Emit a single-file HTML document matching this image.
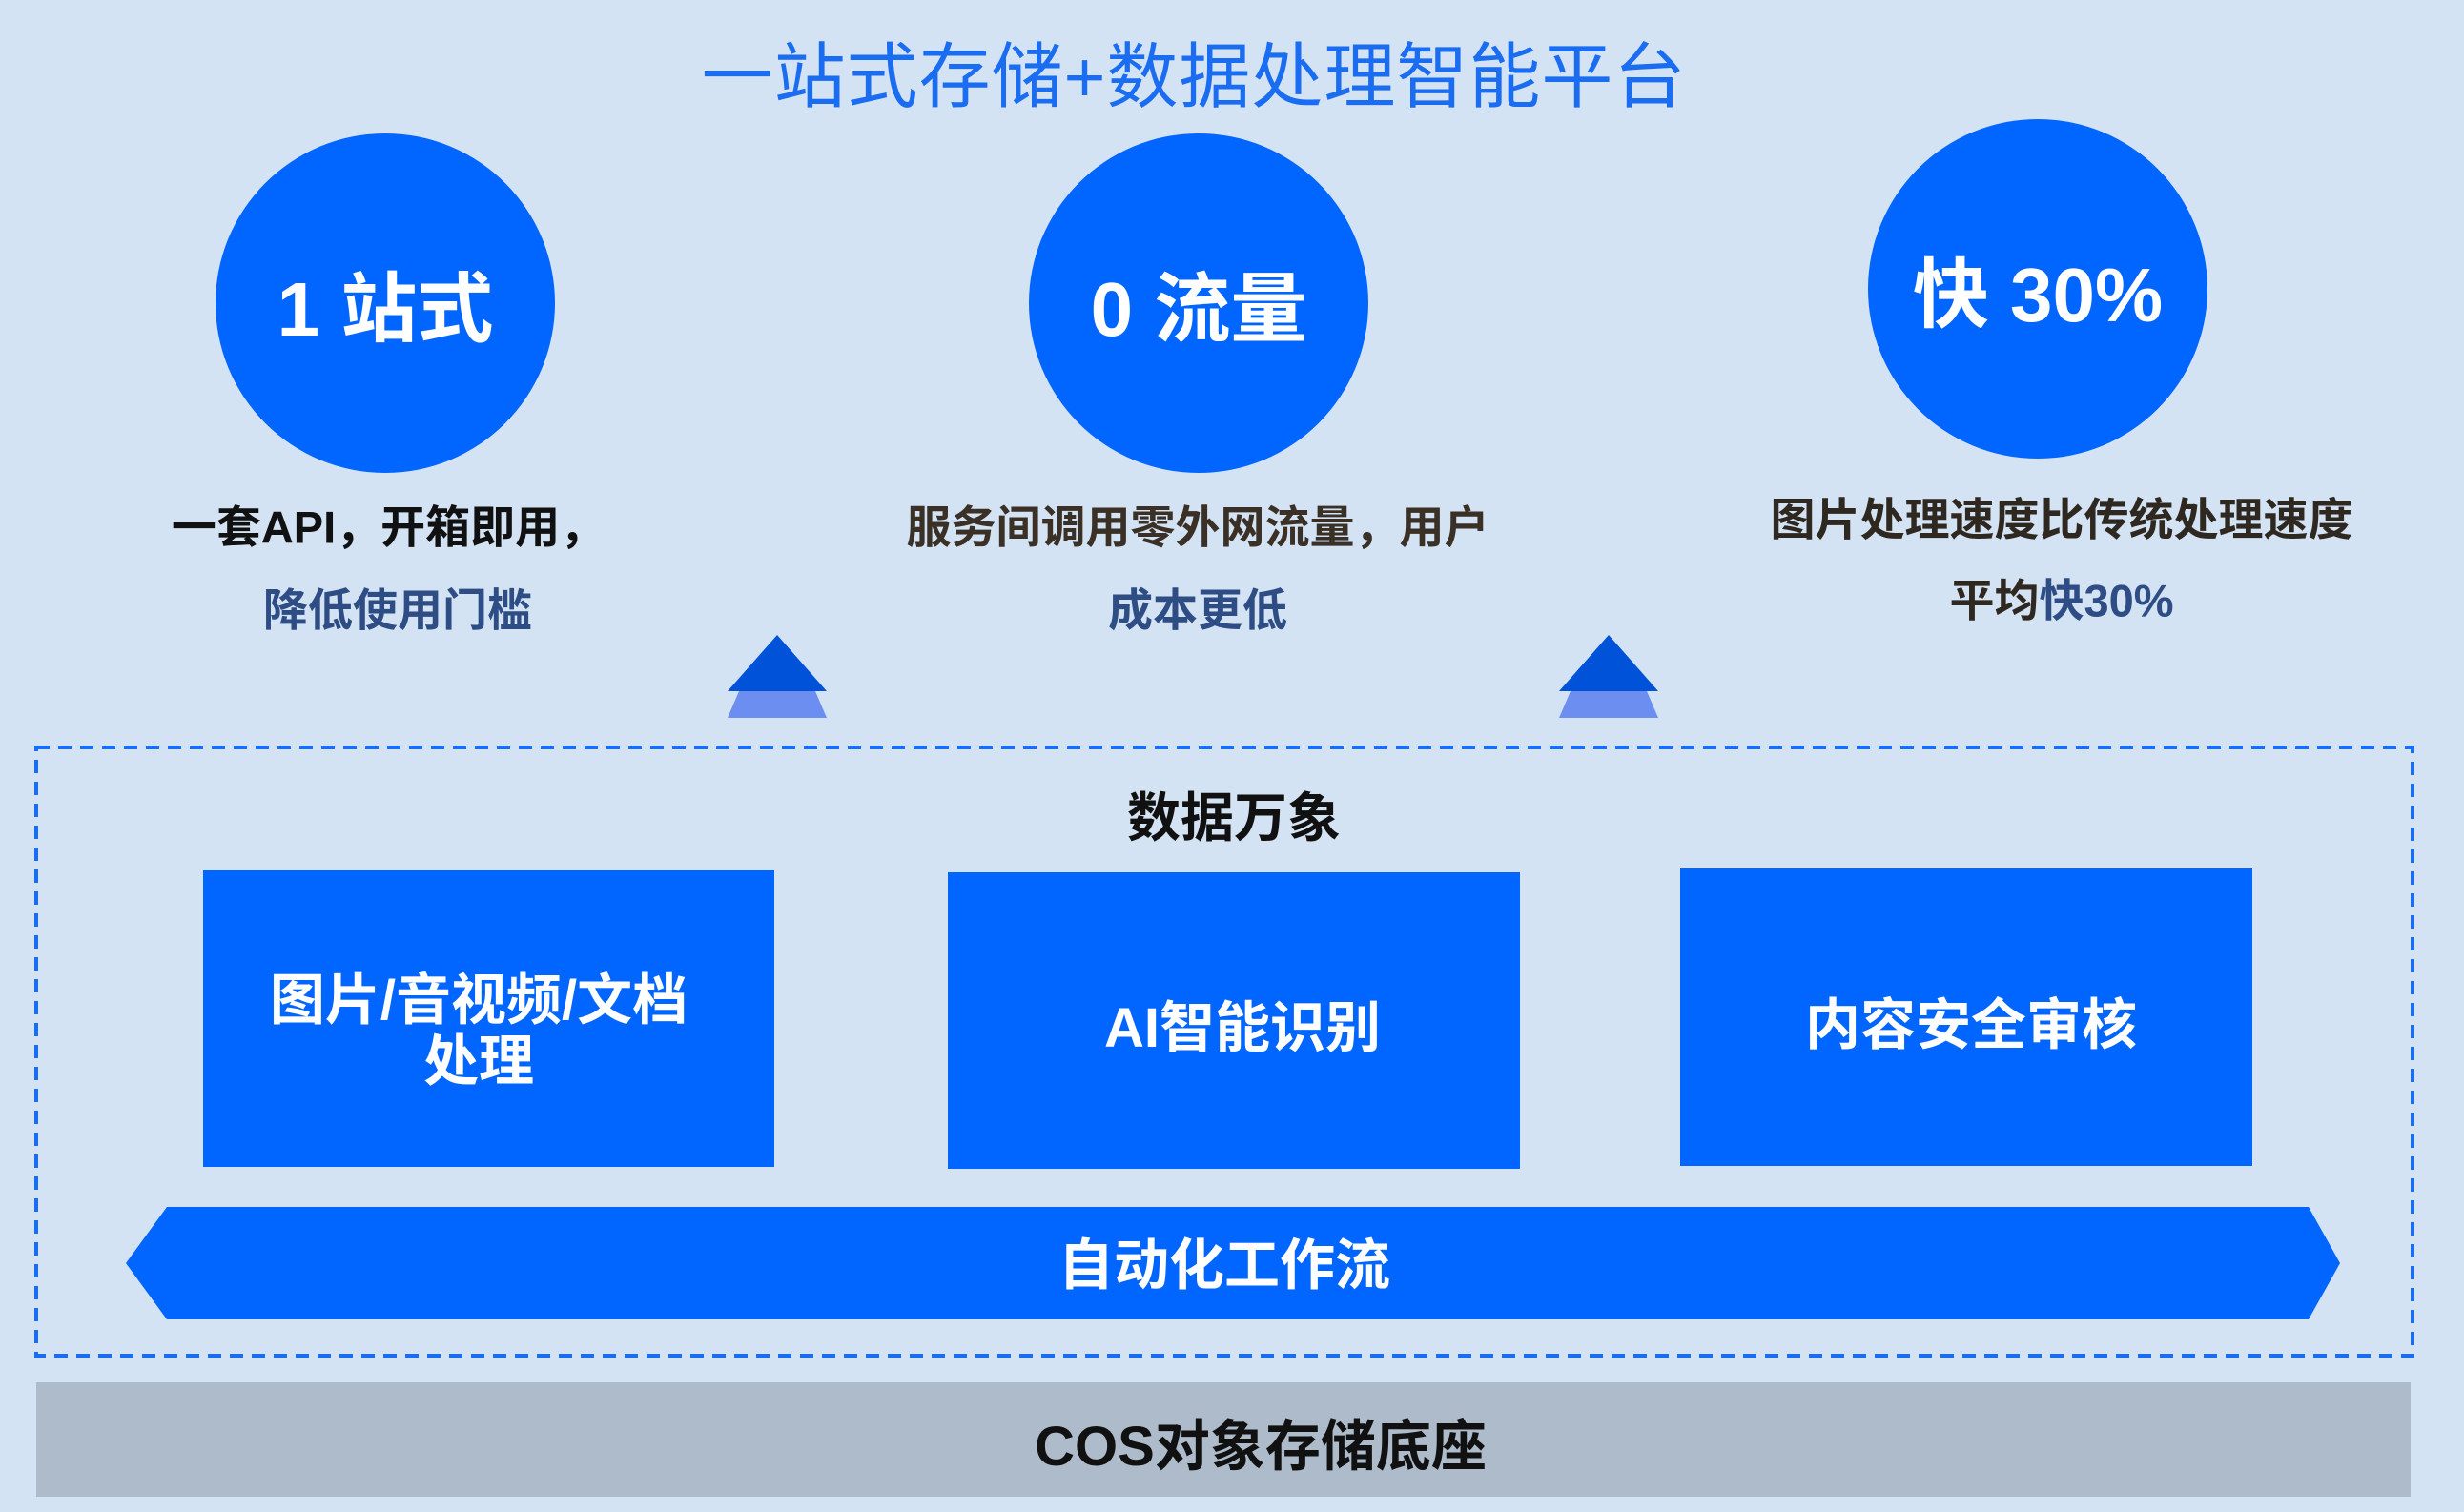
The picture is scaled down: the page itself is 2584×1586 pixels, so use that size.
<!DOCTYPE html>
<html><head><meta charset="utf-8"><style>
*{margin:0;padding:0}
body{width:2584px;height:1586px;background:#d3e3f3;position:relative;overflow:hidden;font-family:"Liberation Sans","Noto Sans CJK SC",sans-serif}
.t{position:absolute;white-space:nowrap;transform:translate(-50%,-50%);font-weight:bold}
.c{position:absolute;border-radius:50%;background:#0066ff;width:356px;height:356px}
.b{position:absolute;background:#0066ff}
</style></head><body>
<div class="t" style="left:1252px;top:74px;font-size:75px;color:#1a6cf0;font-weight:normal;letter-spacing:1px">一站式存储+数据处理智能平台</div>
<div class="c" style="left:226px;top:140px"></div>
<div class="c" style="left:1079px;top:140px"></div>
<div class="c" style="left:1959px;top:125px"></div>
<div class="t" style="left:404px;top:318px;font-size:80px;color:#fff">1 站式</div>
<div class="t" style="left:1257px;top:318px;font-size:80px;color:#fff">0 流量</div>
<div class="t" style="left:2137px;top:303px;font-size:80px;color:#fff">快 30%</div>
<div class="t" style="left:407px;top:549px;font-size:47px;color:#111">一套API，开箱即用，</div>
<div class="t" style="left:417px;top:636px;font-size:47px;color:#2f4d85">降低使用门槛</div>
<div class="t" style="left:1256px;top:549px;font-size:47px;color:#3a3026">服务间调用零外网流量，用户</div>
<div class="t" style="left:1256px;top:636px;font-size:47px;color:#2f4d85">成本更低</div>
<div class="t" style="left:2162px;top:541px;font-size:47px;color:#2f2820">图片处理速度比传统处理速度</div>
<div class="t" style="left:2162px;top:626px;font-size:47px;color:#2f2820">平均<span style="color:#2f4d85">快30%</span></div>
<svg style="position:absolute;left:0;top:0" width="2584" height="1586">
<polygon points="815,666 867,725 763,725" fill="#0052d9"/>
<polygon points="775,725 855,725 867,753 763,753" fill="#6b8ef0"/>
<polygon points="1687,666 1739,725 1635,725" fill="#0052d9"/>
<polygon points="1647,725 1727,725 1739,753 1635,753" fill="#6b8ef0"/>
<rect x="38" y="784" width="2492" height="638" fill="none" stroke="#1a6cf0" stroke-width="4" stroke-dasharray="14,9"/>
<polygon points="175,1266 2421,1266 2454,1325 2421,1384 175,1384 132,1325" fill="#0066ff"/>
<rect x="38" y="1450" width="2490" height="120" fill="#aebbcb"/>
</svg>
<div class="t" style="left:1294px;top:854px;font-size:56px;color:#111">数据万象</div>
<div class="b" style="left:213px;top:913px;width:599px;height:311px"></div>
<div class="b" style="left:994px;top:915px;width:600px;height:311px"></div>
<div class="b" style="left:1762px;top:911px;width:600px;height:312px"></div>
<div class="t" style="left:502px;top:1082px;font-size:58px;color:#fff;text-align:center;line-height:64px">图片/音视频/文档<br>处理</div>
<div class="t" style="left:1303px;top:1073px;font-size:58px;color:#fff">AI智能识别</div>
<div class="t" style="left:2067px;top:1070px;font-size:58px;color:#fff">内容安全审核</div>
<div class="t" style="left:1284px;top:1322px;font-size:58px;color:#fff">自动化工作流</div>
<div class="t" style="left:1322px;top:1512px;font-size:58px;color:#111">COS对象存储底座</div>
</body></html>
